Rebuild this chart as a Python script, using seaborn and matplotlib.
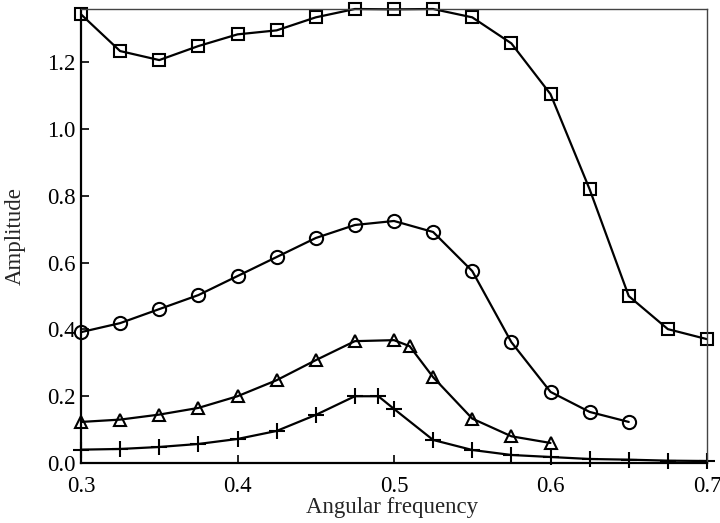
import matplotlib
matplotlib.use("Agg")
import matplotlib.pyplot as plt
import seaborn as sns
import pandas as pd

sns.set_style("ticks")
plt.rcParams['font.family'] = ['Liberation Serif', 'DejaVu Serif']

# Square series
sq_x = [0.3, 0.325, 0.35, 0.375, 0.4, 0.425, 0.45, 0.475, 0.5, 0.525, 0.55, 0.575, 0.6, 0.625, 0.65, 0.675, 0.7]
sq_y = [1.344, 1.234, 1.207, 1.249, 1.284, 1.296, 1.335, 1.36, 1.359, 1.36, 1.335, 1.257, 1.105, 0.820, 0.50, 0.401, 0.371]

# Circle series
ci_x = [0.3, 0.325, 0.35, 0.375, 0.4, 0.425, 0.45, 0.475, 0.5, 0.525, 0.55, 0.575, 0.6, 0.625, 0.65]
ci_y = [0.392, 0.419, 0.461, 0.503, 0.560, 0.617, 0.674, 0.713, 0.725, 0.692, 0.575, 0.362, 0.213, 0.153, 0.123]

# Triangle series
tr_x = [0.3, 0.325, 0.35, 0.375, 0.4, 0.425, 0.45, 0.475, 0.5, 0.51, 0.525, 0.55, 0.575, 0.6]
tr_y = [0.123, 0.130, 0.145, 0.165, 0.200, 0.248, 0.308, 0.365, 0.368, 0.350, 0.257, 0.133, 0.080, 0.060]

# Plus series
pl_x = [0.3, 0.325, 0.35, 0.375, 0.4, 0.425, 0.45, 0.475, 0.49, 0.5, 0.525, 0.55, 0.575, 0.6, 0.625, 0.65, 0.675, 0.7]
pl_y = [0.040, 0.042, 0.048, 0.057, 0.072, 0.096, 0.144, 0.200, 0.200, 0.162, 0.069, 0.039, 0.024, 0.018, 0.012, 0.010, 0.007, 0.006]

x_ticks = [0.3, 0.4, 0.5, 0.6, 0.7]
y_ticks = [0.0, 0.2, 0.4, 0.6, 0.8, 1.0, 1.2]

fig = plt.figure(figsize=(7.2, 5.23), dpi=100)
ax = fig.add_axes([81/720, 1 - 463/523, (707 - 81)/720, (463 - 9)/523])

series = [
    (sq_x, sq_y, 's', 8.5, 1.5),
    (ci_x, ci_y, 'o', 9.5, 1.5),
    (tr_x, tr_y, '^', 8, 1.5),
    (pl_x, pl_y, '+', 12, 1.5),
]
for xs, ys, mk, ms, mew in series:
    df = pd.DataFrame({"x": xs, "y": ys})
    sns.lineplot(data=df, x="x", y="y", ax=ax, color="black", lw=1.6,
                 marker=mk, markersize=ms, markerfacecolor="none",
                 markeredgecolor="black", markeredgewidth=mew,
                 clip_on=False, sort=False, estimator=None)

ax.set_xlim(0.3, 0.7)
ax.set_ylim(0.0, 1.36)
ax.set_xticks(x_ticks)
ax.set_xticklabels([f"{v:.1f}" for v in x_ticks])
ax.set_yticks(y_ticks)
ax.set_yticklabels([f"{v:.1f}" for v in y_ticks])
ax.tick_params(direction="in", length=6, width=1.2, labelsize=16.5, colors="black")
ax.tick_params(axis="x", pad=9)
ax.tick_params(axis="y", pad=4)
ax.set_xlabel("Angular frequency", fontsize=16.5)
ax.set_ylabel("Amplitude", fontsize=16.5)
ax.xaxis.set_label_coords((392 - 81) / 626, (463 - 508) / 454)
ax.yaxis.set_label_coords((15 - 81) / 626, 0.5)
ax.xaxis.label.set_va("center")
ax.yaxis.label.set_va("center")

for s in ["left", "bottom"]:
    ax.spines[s].set_linewidth(1.6)
    ax.spines[s].set_color("black")
for s in ["top", "right"]:
    ax.spines[s].set_linewidth(1.0)
    ax.spines[s].set_color("#444444")

fig.savefig("out.png", dpi=100)
